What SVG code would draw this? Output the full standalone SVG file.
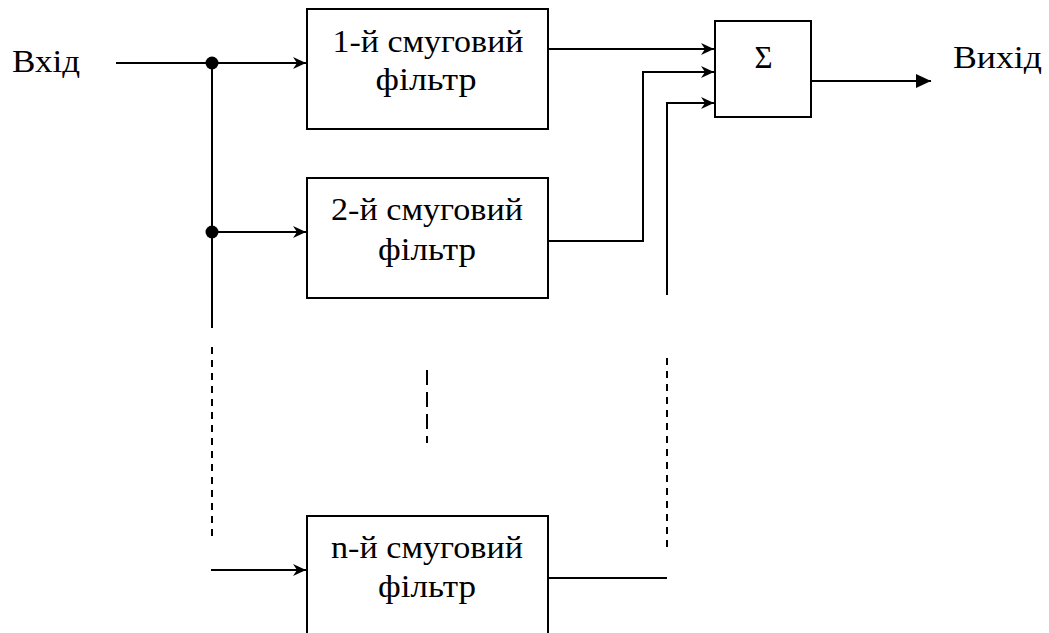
<svg xmlns="http://www.w3.org/2000/svg" width="1049" height="633" viewBox="0 0 1049 633">
<style>
.box{fill:#fff;stroke:#000;stroke-width:2}
.ln{fill:none;stroke:#000;stroke-width:2}
text{font-family:'Liberation Serif','DejaVu Serif',serif;fill:#000}
.t{font-size:31px;text-anchor:middle}
.lbl{font-size:32px}
.dash1{fill:none;stroke:#000;stroke-width:2;stroke-dasharray:7,6}
.dash2{fill:none;stroke:#000;stroke-width:2;stroke-dasharray:15,7}
</style>
<defs>
<marker id="open" markerWidth="14" markerHeight="12" refX="13" refY="6" orient="auto" markerUnits="userSpaceOnUse">
<path d="M0,0 L13,6 L0,12 L4,6 Z" fill="#000"/>
</marker>
<marker id="fill" markerWidth="16" markerHeight="14" refX="15" refY="7" orient="auto" markerUnits="userSpaceOnUse">
<path d="M0,0 L15,7 L0,14 Z" fill="#000"/>
</marker>
</defs>
<rect width="1049" height="633" fill="#fff"/>
<g id="connectors">
<line class="ln" x1="116" y1="63" x2="212" y2="63"/>
<line class="ln" x1="212" y1="63" x2="306" y2="63" marker-end="url(#open)"/>
<line class="ln" x1="212" y1="63" x2="212" y2="328"/>
<line class="ln" x1="212" y1="232" x2="306" y2="232" marker-end="url(#open)"/>
<line class="dash1" x1="212" y1="347" x2="212" y2="536"/>
<line class="ln" x1="211" y1="570" x2="306" y2="570" marker-end="url(#open)"/>
<line class="ln" x1="548" y1="49" x2="714" y2="49" marker-end="url(#open)"/>
<polyline class="ln" points="548,241 643,241 643,72 714,72" marker-end="url(#open)"/>
<polyline class="ln" points="667,295 667,103 714,103" marker-end="url(#open)"/>
<line class="dash1" x1="667" y1="358" x2="667" y2="548"/>
<line class="ln" x1="548" y1="578" x2="667" y2="578"/>
<line class="dash2" x1="427" y1="370" x2="427" y2="443"/>
<line class="ln" x1="811" y1="81" x2="931" y2="81" marker-end="url(#fill)"/>
<circle cx="212" cy="63" r="6.5" fill="#000"/>
<circle cx="212" cy="232" r="6.5" fill="#000"/>
</g>
<g id="in"><text class="lbl" x="12" y="72" textLength="68" lengthAdjust="spacingAndGlyphs">Вхід</text></g>
<g id="out"><text class="lbl" x="953" y="68" textLength="89" lengthAdjust="spacingAndGlyphs">Вихід</text></g>
<g id="f1">
<rect class="box" x="307" y="9" width="241" height="120"/>
<text class="t" x="428" y="52" textLength="191" lengthAdjust="spacingAndGlyphs">1-й смуговий</text>
<text class="t" x="426" y="90" textLength="101" lengthAdjust="spacingAndGlyphs">фільтр</text>
</g>
<g id="f2">
<rect class="box" x="307" y="178" width="241" height="120"/>
<text class="t" x="427" y="220" textLength="192" lengthAdjust="spacingAndGlyphs">2-й смуговий</text>
<text class="t" x="427" y="260" textLength="98" lengthAdjust="spacingAndGlyphs">фільтр</text>
</g>
<g id="fn">
<rect class="box" x="307" y="516" width="241" height="130"/>
<text class="t" x="427" y="558" textLength="192" lengthAdjust="spacingAndGlyphs">n-й смуговий</text>
<text class="t" x="427" y="597" textLength="98" lengthAdjust="spacingAndGlyphs">фільтр</text>
</g>
<g id="sum">
<rect class="box" x="715" y="21" width="96" height="96"/>
<text class="t" x="763.5" y="68" font-size="30">Σ</text>
</g>
</svg>
